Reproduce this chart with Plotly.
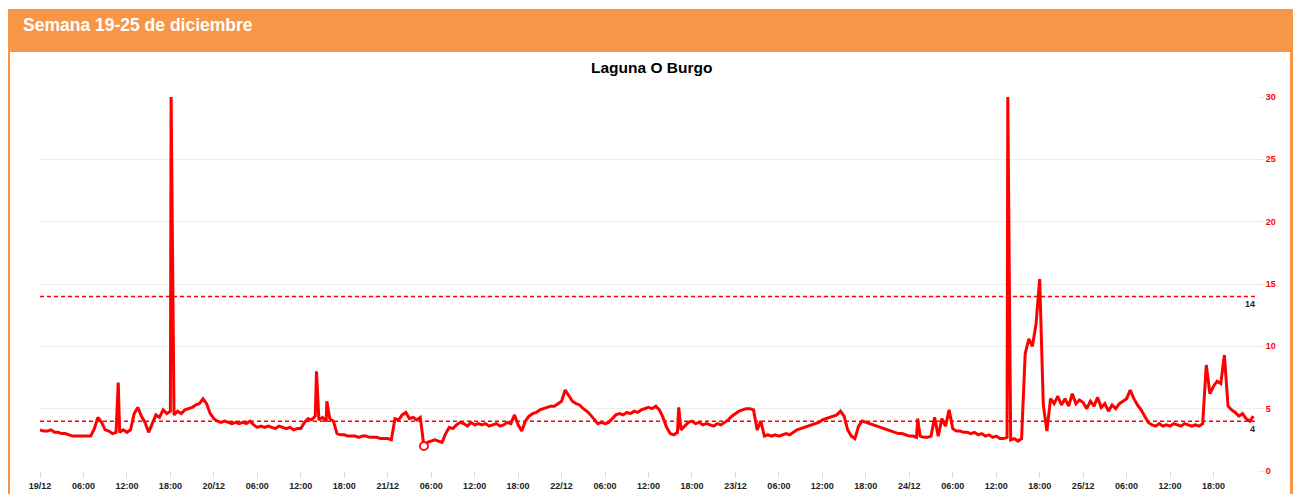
import pandas as pd
import plotly.graph_objects as go

# ---- data (30-minute readings) ----
start = "2022-12-19 00:00"
day_19 = [3.3, 3.2, 3.2, 3.3, 3.1, 3.1, 3.0, 3.0, 2.9, 2.8, 2.8, 2.8, 2.8, 2.8, 2.8, 3.4,
          4.3, 3.9, 3.3, 3.2, 3.0, 3.1, 3.1, 3.3, 3.1, 3.3, 4.6, 5.1, 4.4, 3.9, 3.1, 3.8,
          4.5, 4.3, 4.9, 4.6, 4.8, 4.5, 4.8, 4.6, 4.9, 5.0, 5.1, 5.3, 5.4, 5.8, 5.4, 4.6]
day_20 = [4.2, 4.0, 3.9, 4.0, 3.9, 3.8, 3.9, 3.8, 3.9, 3.8, 4.0, 3.7, 3.5, 3.6, 3.5, 3.6,
          3.5, 3.4, 3.6, 3.5, 3.4, 3.5, 3.3, 3.4, 3.4, 3.9, 4.2, 4.1, 4.4, 4.1, 4.3, 4.0,
          4.2, 4.0, 3.0, 2.9, 2.9, 2.8, 2.8, 2.8, 2.7, 2.8, 2.8, 2.7, 2.7, 2.7, 2.6, 2.6]
day_21 = [2.6, 2.5, 4.2, 4.1, 4.5, 4.7, 4.2, 4.3, 4.1, 4.3, 2.0, 2.3, 2.4, 2.5, 2.4, 2.3,
          3.0, 3.5, 3.4, 3.7, 3.9, 3.8, 3.6, 3.9, 3.7, 3.8, 3.7, 3.8, 3.6, 3.7, 3.8, 3.6,
          3.7, 3.9, 3.8, 4.5, 3.7, 3.2, 4.0, 4.4, 4.6, 4.7, 4.9, 5.0, 5.1, 5.2, 5.2, 5.4]
day_22 = [5.6, 6.5, 6.0, 5.6, 5.4, 5.3, 5.0, 4.8, 4.5, 4.1, 3.8, 3.9, 3.8, 3.9, 4.2, 4.5,
          4.6, 4.5, 4.7, 4.6, 4.8, 4.7, 4.9, 5.0, 5.1, 5.0, 5.2, 4.9, 4.3, 3.5, 3.0, 2.9,
          3.1, 3.3, 3.6, 3.9, 4.0, 3.8, 3.9, 3.7, 3.8, 3.7, 3.6, 3.8, 3.7, 3.9, 4.1, 4.4]
day_23 = [4.6, 4.8, 4.9, 5.0, 5.0, 4.9, 3.3, 4.0, 2.8, 2.9, 2.8, 2.9, 2.8, 2.9, 3.0, 2.9,
          3.1, 3.3, 3.4, 3.5, 3.6, 3.7, 3.8, 3.9, 4.1, 4.2, 4.3, 4.4, 4.5, 4.8, 4.4, 3.3,
          2.8, 2.6, 3.6, 4.0, 3.9, 3.8, 3.7, 3.6, 3.5, 3.4, 3.3, 3.2, 3.1, 3.0, 3.0, 2.9]
day_24 = [2.8, 2.8, 2.7, 2.8, 2.7, 2.7, 2.8, 4.3, 2.8, 4.2, 3.6, 4.9, 3.4, 3.2, 3.2, 3.1,
          3.1, 3.0, 3.1, 2.9, 3.0, 2.8, 2.9, 2.7, 2.8, 2.6, 2.6, 2.7, 2.5, 2.6, 2.4, 2.6,
          9.4, 10.6, 10.0, 11.8, 15.4, 5.3, 3.2, 5.8, 5.4, 6.0, 5.3, 5.8, 5.2, 6.2, 5.4, 5.7]
day_25 = [5.5, 5.0, 5.6, 5.2, 5.9, 5.1, 5.4, 4.8, 5.3, 5.0, 5.4, 5.6, 5.8, 6.5, 5.8, 5.3,
          4.9, 4.4, 3.9, 3.7, 3.6, 3.8, 3.6, 3.7, 3.6, 3.8, 3.7, 3.6, 3.8, 3.7, 3.6, 3.7,
          3.6, 3.8, 8.5, 6.2, 6.8, 7.2, 7.0, 9.3, 5.2, 4.9, 4.7, 4.4, 4.6, 4.2, 4.0, 4.4]

spike_times = ["2022-12-19 10:48", "2022-12-19 18:06", "2022-12-20 14:10", "2022-12-20 15:36",
               "2022-12-22 16:10", "2022-12-24 01:10", "2022-12-24 13:36"]
spike_values = [7.1, 30.0, 8.0, 5.6, 5.1, 4.2, 30.0]

thresholds = [14, 4]
threshold_labels = ["14", "4"]

tick_times = pd.date_range("2022-12-19", "2022-12-25 18:00", freq="6h")
tick_labels = [t.strftime("%d/%m") if t.hour == 0 else t.strftime("%H:%M") for t in tick_times]

title = "Laguna O Burgo"
header = "Semana 19-25 de diciembre"

# ---- assemble series ----
values = day_19 + day_20 + day_21 + day_22 + day_23 + day_24 + day_25
times = pd.date_range(start, periods=len(values), freq="30min")
series = pd.concat([pd.Series(values, index=times),
                    pd.Series(spike_values, index=pd.to_datetime(spike_times))]).sort_index()
min_t = series.idxmin()
min_v = series.min()

x0 = pd.Timestamp("2022-12-19 00:00")
x1 = pd.Timestamp("2022-12-26 00:00")

fig = go.Figure()
for th in thresholds:
    fig.add_trace(go.Scatter(x=[x0, x1], y=[th, th], mode="lines",
                             line=dict(color="#FF0000", width=1.5, dash="4px,3px"),
                             hoverinfo="skip"))
fig.add_trace(go.Scatter(x=series.index, y=series.values, mode="lines",
                         line=dict(color="#FF0000", width=3)))
fig.add_trace(go.Scatter(x=[min_t], y=[min_v], mode="markers",
                         marker=dict(size=8, color="white", line=dict(color="#FF0000", width=1.8))))

# page geometry: the figure sits 8px into the page (body margin)
OFF = 8
W, H = 1301 - 2 * OFF, 502 - 2 * OFF
L, R, T, B = 40, 1257, 97, 471          # plot area in page pixels
pw, ph = R - L, B - T
def px(x): return (x - L) / pw
def py(y): return (B - y) / ph

orange = "#F79646"
shapes = [
    dict(type="rect", xref="paper", yref="paper", x0=px(0), x1=px(1310), y0=py(52), y1=py(9),
         fillcolor=orange, line=dict(width=0), layer="below"),
    dict(type="rect", xref="paper", yref="paper", x0=px(0), x1=px(10), y0=py(510), y1=py(52),
         fillcolor=orange, line=dict(width=0), layer="below"),
    dict(type="rect", xref="paper", yref="paper", x0=px(1290), x1=px(1310), y0=py(510), y1=py(52),
         fillcolor=orange, line=dict(width=0), layer="below"),
]

annotations = [
    dict(text=header, xref="paper", yref="paper", x=px(21), y=py(25), xanchor="left", yanchor="middle",
         showarrow=False,
         font=dict(family="Liberation Sans, Arial", size=17.5, color="white", weight="bold")),
    dict(text=title, xref="paper", yref="paper", x=px(651), y=py(68), xanchor="center", yanchor="middle",
         showarrow=False, font=dict(family="Liberation Sans, Arial", size=15.5, color="black", weight="bold")),
]
for th, lab in zip(thresholds, threshold_labels):
    annotations.append(dict(text=lab, xref="paper", yref="y", x=px(1257), y=th, xanchor="right",
                            yanchor="top", yshift=-1, showarrow=False,
                            font=dict(family="Liberation Sans, Arial", size=9, color="#222222", weight="bold")))

fig.update_layout(
    width=W, height=H,
    margin=dict(l=L - OFF, r=(W + OFF) - R, t=T - OFF, b=H - (B - OFF), autoexpand=False),
    paper_bgcolor="white", plot_bgcolor="white",
    showlegend=False,
    shapes=shapes, annotations=annotations,
    xaxis=dict(range=[x0, x1], tickvals=list(tick_times), ticktext=tick_labels, automargin=False,
               showgrid=False, zeroline=False, showline=False,
               ticks="outside", ticklen=6, tickcolor="#dddddd", tickwidth=1,
               tickfont=dict(family="Liberation Sans, Arial", size=9, color="#222222", weight="bold")),
    yaxis=dict(range=[0, 30], side="right", tickvals=[0, 5, 10, 15, 20, 25, 30], automargin=False,
               showgrid=True, gridcolor="#eeeeee", zeroline=False, showline=False,
               ticks="outside", ticklen=6, tickcolor="#e6e6e6",
               tickfont=dict(family="Liberation Sans, Arial", size=9, color="#FF0000", weight="bold")),
)

fig.write_html("out.html")
